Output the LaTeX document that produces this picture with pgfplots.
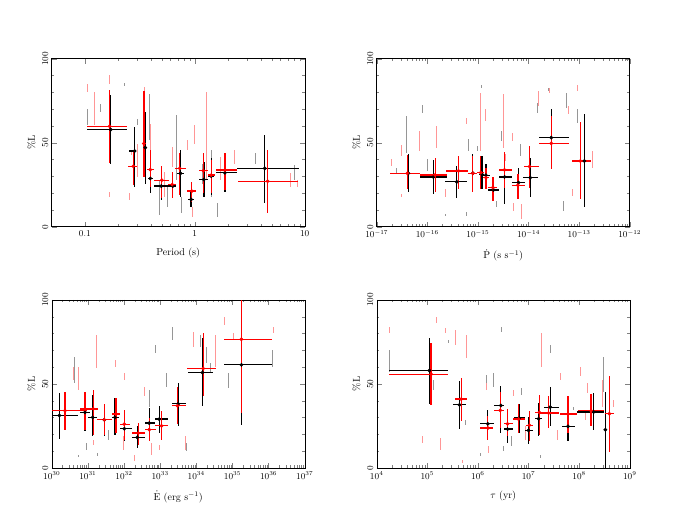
\documentclass[border=0pt]{standalone}
\usepackage{pgfplots}
\usepackage{pgfplotstable}
\pgfplotsset{compat=1.18}

\definecolor{bgpink}{RGB}{255,150,150}
\definecolor{bggray}{RGB}{150,150,150}

\pgfplotsset{
  every axis/.append style={scale only axis, width=253pt, height=168pt,
    ymin=0, ymax=100, ytick={0,50,100}, minor y tick num=4,
    yticklabel style={rotate=90, anchor=south},
    ylabel={\%L}, ticklabel style={font=\small},
    xlabel style={yshift=-5pt},
    major tick length=5pt, minor tick length=2.5pt},
}

% binned values: centre, bin edges, error range
\newcommand\binplot[2]{%
  \addplot[only marks, mark=*, mark size=1.7pt, color=#1,
    error bars/x dir=both, error bars/x explicit,
    error bars/y dir=both, error bars/y explicit,
    error bars/error mark=none,
    error bars/error bar style={line width=1.3pt}]
  table[x=x, y=y,
    x error plus expr=\thisrow{xhi}-\thisrow{x},
    x error minus expr=\thisrow{x}-\thisrow{xlo},
    y error plus expr=\thisrow{yhi}-\thisrow{y},
    y error minus expr=\thisrow{y}-\thisrow{ylo}] {#2};}
% individual sources: faint vertical ranges
\newcommand\bgplot[2]{%
  \addplot[draw=none, mark=none, forget plot,
    error bars/y dir=both, error bars/y explicit,
    error bars/error mark=none,
    error bars/error bar style={draw=#1, line width=0.9pt}]
  table[x=x, y expr=(\thisrow{lo}+\thisrow{hi})/2,
    y error expr=(\thisrow{hi}-\thisrow{lo})/2] {#2};}

% ---- Period
\pgfplotstableread[row sep=\\]{
x y xlo xhi ylo yhi \\
0.172 57.8 0.104 0.244 37.2 78.2 \\
0.284 45.1 0.251 0.294 23.8 59.4 \\
0.355 47.1 0.338 0.370 25.7 68.3 \\
0.394 28.7 0.375 0.416 19.8 34.7 \\
0.496 24.2 0.425 0.589 15.8 30.7 \\
0.631 24.2 0.569 0.678 17.8 29.7 \\
0.742 31.7 0.692 0.805 17.8 45.5 \\
0.927 16.2 0.865 0.993 11.9 20.8 \\
1.21 28.1 1.10 1.31 17.8 38.6 \\
1.41 30.1 1.31 1.51 18.8 40.6 \\
1.88 32.1 1.56 2.42 20.8 43.6 \\
4.33 34.7 2.42 8.90 14.3 54.5 \\
}\perblack
\pgfplotstableread[row sep=\\]{
x y xlo xhi ylo yhi \\
0.168 59.8 0.104 0.244 38.0 81.6 \\
0.276 36.0 0.247 0.300 24.8 45.5 \\
0.345 49.5 0.331 0.362 29.7 81.0 \\
0.394 34.0 0.370 0.425 23.8 45.5 \\
0.502 27.7 0.425 0.589 16.8 36.0 \\
0.624 25.1 0.569 0.678 16.8 32.7 \\
0.731 34.7 0.664 0.834 18.8 43.6 \\
0.940 21.2 0.851 1.03 14.9 26.7 \\
1.20 33.3 1.10 1.31 19.8 43.6 \\
1.41 30.7 1.31 1.52 19.8 39.6 \\
1.88 33.7 1.56 2.42 21.8 44.0 \\
4.60 27.1 2.45 8.71 7.9 45.9 \\
}\perred
\pgfplotstableread[row sep=\\]{
x lo hi \\
0.105 60.4 70.3 \\ 0.140 68.3 73.3 \\ 0.388 51.5 79.2 \\ 0.687 27.7 66.3 \\
0.479 6.9 27.7 \\ 0.569 11.9 23.8 \\ 1.18 25.7 37.6 \\ 1.41 17.8 45.5 \\
1.61 5.9 13.9 \\ 8.0 27.7 36.6 \\ 3.6 37.6 43.6 \\ 0.23 84 85.5 \\
0.304 60.4 64.4 \\ 0.75 7.9 17.8 \\
}\pergray
\pgfplotstableread[row sep=\\]{
x lo hi \\
0.105 80.2 85.1 \\ 0.122 60.4 80.2 \\ 0.169 85 90 \\ 0.350 51.5 83 \\
0.396 45.5 61.4 \\ 0.993 49.5 60.4 \\ 1.29 27.7 80.2 \\ 0.304 29.7 49.5 \\
0.256 15.8 19.8 \\ 0.169 17.8 20.8 \\ 0.632 35.6 47.5 \\ 1.73 27.7 41.6 \\
2.29 37.6 45.5 \\ 0.96 5.9 11.9 \\ 7.46 23.8 31.7 \\ 8.59 23.8 27.7 \\
0.531 17.8 32.7 \\ 0.265 42.6 45.5 \\ 0.866 45.5 51.5 \\
}\perpink

% ---- Pdot
\pgfplotstableread[row sep=\\]{
x y xlo xhi ylo yhi \\
4.24e-17 31.8 2.31e-17 6.89e-17 20.4 43.5 \\
1.32e-16 29.6 7.21e-17 2.43e-16 19.4 39.5 \\
3.83e-16 26.7 2.25e-16 6.04e-16 17.0 36.2 \\
7.94e-16 31.8 6.52e-16 9.82e-16 20.4 43.1 \\
1.20e-15 31.2 1.03e-15 1.33e-15 22.5 42.1 \\
1.44e-15 30.6 1.20e-15 1.75e-15 22.3 37.5 \\
2.04e-15 21.9 1.62e-15 2.67e-15 15.4 28.5 \\
3.36e-15 29.6 2.56e-15 4.70e-15 13.4 39.1 \\
6.35e-15 26.3 4.70e-15 8.61e-15 19.4 35.2 \\
1.08e-14 29.2 7.74e-15 1.51e-14 17.8 40.7 \\
2.82e-14 53.0 1.58e-14 6.21e-14 34.2 70.2 \\
1.27e-13 39.1 7.23e-14 1.72e-13 11.5 67.2 \\
}\pdblack
\pgfplotstableread[row sep=\\]{
x y xlo xhi ylo yhi \\
4.05e-17 31.8 1.84e-17 7.21e-17 22.3 42.5 \\
1.43e-16 30.8 7.21e-17 2.43e-16 20.4 41.1 \\
4.13e-16 33.2 2.36e-16 6.52e-16 22.3 42.1 \\
7.94e-16 31.8 6.52e-16 9.82e-16 20.4 42.1 \\
1.14e-15 32.2 9.82e-16 1.33e-15 22.3 42.1 \\
1.44e-15 29.2 1.25e-15 1.67e-15 22.3 35.2 \\
1.98e-15 23.3 1.62e-15 2.37e-15 15.4 29.6 \\
3.36e-15 33.8 2.67e-15 4.70e-15 23.3 44.5 \\
6.17e-15 24.7 4.70e-15 8.36e-15 16.4 31.6 \\
1.05e-14 35.8 7.98e-15 1.58e-14 23.3 48.0 \\
2.82e-14 49.6 1.58e-14 6.21e-14 34.2 65.8 \\
1.06e-13 39.1 7.23e-14 1.72e-13 16.4 62.3 \\
}\pdred
\pgfplotstableread[row sep=\\]{
x lo hi \\
2.49e-17 32.2 35.2 \\ 3.80e-17 44.1 65.8 \\ 8.13e-17 67.8 72.7 \\ 1.01e-16 33.2 40.1 \\
6.52e-16 45.1 52.0 \\ 1.20e-15 82.6 84.6 \\ 9.82e-16 45.1 48.0 \\ 2.37e-15 11.5 15.4 \\
2.98e-15 51.0 56.9 \\ 6.86e-15 42.1 49.0 \\ 1.47e-14 67.8 73.7 \\ 2.49e-14 80.6 82.6 \\
5.75e-14 70.8 79.6 \\ 9.35e-14 61.9 69.8 \\ 4.94e-14 9.5 15.4 \\ 6.04e-16 6.5 8.5 \\
2.25e-16 6.5 7.5 \\
}\pdgray
\pgfplotstableread[row sep=\\]{
x lo hi \\
1.98e-17 36.2 40.1 \\ 3.13e-17 42.1 48.6 \\ 6.89e-17 45.1 56.9 \\ 1.54e-16 47.0 59.9 \\
5.86e-16 60.9 64.8 \\ 1.11e-15 45.1 79.6 \\ 1.39e-15 62.8 69.8 \\ 3.21e-15 47.0 78.7 \\
4.84e-15 51.0 55.9 \\ 1.58e-14 71.7 80.6 \\ 2.61e-14 79.6 82.6 \\ 6.03e-14 66.8 71.7 \\
9.35e-14 80.6 84.6 \\ 1.80e-13 35.2 45.1 \\ 7.23e-14 18.4 22.3 \\ 3.13e-17 17.4 19.4 \\
2.25e-16 17.4 22.3 \\ 5.06e-15 9.5 14.4 \\ 7.39e-15 4.5 13.4 \\ 3.47e-15 39.1 43.1 \\
}\pdpink

% ---- Edot
\pgfplotstableread[row sep=\\]{
x y xlo xhi ylo yhi \\
1.63e30 31.3 1.00e30 5.46e30 17.2 44.6 \\
8.34e30 33.1 6.07e30 1.15e31 21.8 44.6 \\
1.36e31 30.1 1.03e31 1.83e31 18.8 43.6 \\
2.85e31 28.7 1.75e31 4.54e31 18.8 38.2 \\
5.62e31 30.1 4.54e31 7.40e31 19.8 41.6 \\
1.02e32 23.4 7.73e31 1.62e32 15.8 29.7 \\
2.32e32 18.2 1.62e32 3.78e32 11.9 24.8 \\
4.99e32 26.7 3.78e32 7.16e32 17.8 35.6 \\
9.42e32 29.1 7.16e32 1.67e33 20.6 37.2 \\
3.16e33 38.2 2.07e33 5.36e33 24.8 50.5 \\
1.48e34 56.8 5.96e33 2.92e34 37.0 77.2 \\
1.77e35 61.4 5.77e34 1.27e36 25.7 77.2 \\
}\edblack
\pgfplotstableread[row sep=\\]{
x y xlo xhi ylo yhi \\
2.33e30 34.1 1.00e30 9.27e30 22.8 45.0 \\
8.34e30 35.2 6.07e30 1.19e31 22.8 45.5 \\
1.42e31 35.2 1.07e31 1.87e31 19.8 46.5 \\
2.85e31 28.7 1.83e31 4.54e31 19.8 38.2 \\
5.98e31 32.1 4.74e31 7.73e31 20.8 41.6 \\
1.02e32 26.1 7.73e31 1.46e32 16.8 34.7 \\
2.48e32 20.8 1.62e32 3.78e32 13.9 26.7 \\
4.99e32 22.8 3.78e32 7.62e32 15.8 29.7 \\
1.09e33 25.1 7.16e32 1.67e33 16.8 33.7 \\
3.03e33 37.0 2.07e33 5.36e33 26.3 48.5 \\
1.55e34 59.2 5.71e33 3.61e34 42.6 80.6 \\
1.77e35 76.6 5.77e34 1.27e36 32.7 100 \\
}\edred
\pgfplotstableread[row sep=\\]{
x lo hi \\
4.23e30 50.5 66.3 \\ 5.46e30 6.9 7.9 \\ 3.67e31 16.8 22.8 \\ 1.83e31 6.9 8.9 \\
7.62e32 68.3 73.3 \\ 1.50e33 48.5 56.4 \\ 2.20e33 76.2 84.2 \\ 5.36e33 9.9 14.9 \\
1.33e34 72.3 79.2 \\ 1.91e34 62.4 72.3 \\ 2.47e34 56.4 62.4 \\ 7.59e34 47.5 56.4 \\
1.27e36 60.4 70.3 \\ 9.27e30 10.9 14.9 \\ 5.20e32 36.6 46.5 \\
}\edgray
\pgfplotstableread[row sep=\\]{
x lo hi \\
5.46e30 46.5 60.4 \\ 1.68e31 59.4 79.2 \\ 1.42e31 13.9 16.8 \\ 5.62e31 60.4 64.4 \\
1.02e32 52.5 56.4 \\ 3.78e32 42.6 48.5 \\ 5.78e32 7.9 14.9 \\ 9.84e32 10.9 13.9 \\
8.18e33 72.3 81.2 \\ 3.47e34 60.4 79.2 \\ 6.14e34 85.1 90.1 \\ 5.04e33 10.9 18.8 \\
1.33e36 80.2 84.2 \\ 1.04e35 76.2 80.2 \\ 2.00e32 4.0 7.9 \\ 9.55e31 10.9 18.8 \\
3.97e30 52.5 60.4 \\
}\edpink

% ---- tau
\pgfplotstableread[row sep=\\]{
x y xlo xhi ylo yhi \\
1.10e5 58.0 1.78e4 2.62e5 38.2 77.2 \\
4.33e5 37.6 3.29e5 5.86e5 23.2 51.5 \\
1.57e6 26.3 1.11e6 2.04e6 18.8 34.7 \\
2.84e6 37.2 2.10e6 3.31e6 20.8 48.9 \\
3.85e6 23.2 3.21e6 4.91e6 14.9 32.7 \\
6.56e6 29.7 5.06e6 8.61e6 20.6 38.2 \\
1.00e7 22.4 8.61e6 1.22e7 14.3 30.5 \\
1.58e7 29.3 1.32e7 1.84e7 18.8 38.6 \\
2.69e7 36.2 2.05e7 3.94e7 24.8 48.1 \\
6.03e7 24.8 4.58e7 8.41e7 15.8 33.7 \\
1.94e8 33.3 9.08e7 3.05e8 22.8 44.6 \\
3.30e8 22.8 3.20e8 3.40e8 0.0 45.0 \\
}\tablack
\pgfplotstableread[row sep=\\]{
x y xlo xhi ylo yhi \\
1.19e5 55.8 1.78e4 2.62e5 37.6 74.3 \\
4.67e5 41.0 3.55e5 6.22e5 27.7 53.5 \\
1.57e6 23.8 1.11e6 1.98e6 16.8 30.7 \\
2.76e6 34.3 2.04e6 3.31e6 23.8 45.0 \\
3.85e6 26.3 3.21e6 4.91e6 18.8 35.0 \\
6.35e6 29.1 4.91e6 8.61e6 20.6 37.8 \\
1.04e7 25.5 9.02e6 1.22e7 15.8 33.7 \\
1.63e7 33.1 1.36e7 1.90e7 19.8 43.6 \\
2.49e7 32.7 1.71e7 3.94e7 23.8 42.6 \\
6.03e7 32.1 4.25e7 9.08e7 20.8 42.6 \\
1.72e8 34.1 9.35e7 3.05e8 24.8 44.0 \\
3.96e8 32.3 3.30e8 4.98e8 9.3 54.9 \\
}\tared
\pgfplotstableread[row sep=\\]{
x lo hi \\
1.78e4 57.4 70.3 \\ 2.62e5 74.3 76.2 \\ 1.32e5 46.5 52.5 \\ 2.98e6 81.2 84.2 \\
2.77e7 68.3 73.3 \\ 7.40e6 43.6 47.5 \\ 7.80e7 34.7 36.6 \\ 3.05e8 45.5 66.3 \\
5.60e5 25.7 28.7 \\ 1.11e6 6.9 8.9 \\ 2.04e6 48.5 56.4 \\ 4.69e6 12.9 18.8 \\
3.21e6 9.9 12.9 \\ 1.71e7 5.9 7.9 \\ 1.50e6 46.5 55.4 \\
}\tagray
\pgfplotstableread[row sep=\\]{
x lo hi \\
1.78e4 80.2 84.2 \\ 1.54e5 86.1 90.1 \\ 2.25e5 80.2 83.2 \\ 3.55e5 73.3 82.2 \\
5.86e5 65.3 79.2 \\ 1.84e7 60.4 80.2 \\ 1.06e8 54.5 60.4 \\ 1.43e8 44.6 50.5 \\
2.84e8 36.6 52.5 \\ 4.68e8 36.6 40.6 \\ 1.85e5 10.9 17.8 \\ 5.04e5 3.0 5.0 \\
1.50e6 46.5 50.5 \\ 8.61e6 16.8 24.8 \\ 3.65e7 16.8 22.8 \\ 8.13e4 14.9 18.8 \\
4.25e7 52.5 56.4 \\ 1.33e8 28.7 34.7 \\ 5.06e6 42.6 46.5 \\ 1.62e6 8.9 12.9 \\
}\tapink

\begin{document}
\begin{tikzpicture}
\path[use as bounding box] (0,0) rectangle (682pt,527pt);

\begin{semilogxaxis}[at={(51.7pt,300.3pt)}, anchor=south west,
  xmin=0.05, xmax=10, xtick={0.1,1,10}, log ticks with fixed point,
  xlabel={Period (s)}]
\bgplot{bggray}{\pergray}
\bgplot{bgpink}{\perpink}
\binplot{black}{\perblack}
\binplot{red}{\perred}
\end{semilogxaxis}

\begin{semilogxaxis}[at={(376.7pt,300.3pt)}, anchor=south west,
  xmin=1e-17, xmax=1e-12,
  xlabel={$\dot{\mathrm{P}}$ (s s$^{-1}$)}]
\bgplot{bggray}{\pdgray}
\bgplot{bgpink}{\pdpink}
\binplot{black}{\pdblack}
\binplot{red}{\pdred}
\end{semilogxaxis}

\begin{semilogxaxis}[at={(51.7pt,59pt)}, anchor=south west,
  xmin=1e30, xmax=1e37,
  xlabel={$\dot{\mathrm{E}}$ (erg s$^{-1}$)}]
\bgplot{bggray}{\edgray}
\bgplot{bgpink}{\edpink}
\binplot{black}{\edblack}
\binplot{red}{\edred}
\end{semilogxaxis}

\begin{semilogxaxis}[at={(376.7pt,59pt)}, anchor=south west,
  xmin=1e4, xmax=1e9,
  xlabel={$\tau$ (yr)}]
\bgplot{bggray}{\tagray}
\bgplot{bgpink}{\tapink}
\binplot{black}{\tablack}
\binplot{red}{\tared}
\end{semilogxaxis}
\end{tikzpicture}
\end{document}
